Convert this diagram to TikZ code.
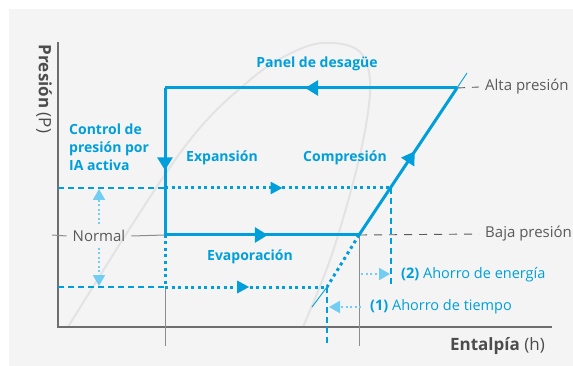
\documentclass[tikz,border=0pt]{standalone}
\usepackage{fontspec}
\setmainfont{Open Sans}
\usetikzlibrary{
  arrows.meta,
  positioning,
  decorations.markings
}
\definecolor{cycleblue}{HTML}{009FDB}
\definecolor{softblue}{HTML}{72CDF2}
\definecolor{labelgrey}{HTML}{5A5A5A}
\definecolor{axisgrey}{HTML}{6E6E6E}
\definecolor{tickgrey}{HTML}{8C8C8C}
\definecolor{domegrey}{HTML}{E3E3E3}
\definecolor{panelgrey}{HTML}{F4F4F4}

\begin{document}
\begin{tikzpicture}[x=1pt, y=-1pt,
  cycleline/.style={draw=cycleblue, line width=3pt},
  dotline/.style={draw=cycleblue, line width=3pt, dash pattern=on 3pt off 3.5pt},
  dashline/.style={draw=cycleblue, line width=1.6pt, dash pattern=on 6pt off 4pt},
  thinblue/.style={draw=cycleblue, line width=0.9pt},
  greydash/.style={draw=labelgrey, line width=0.9pt, dash pattern=on 8pt off 7pt},
  tick/.style={draw=tickgrey, line width=1pt},
  axis/.style={draw=axisgrey, line width=2pt},
  dome/.style={draw=domegrey, line width=2pt},
  softarrow/.style={draw=softblue, line width=2pt, dash pattern=on 2pt off 2.5pt,
    -{Triangle[length=11pt, width=12pt, fill=softblue]}},
  arrowat/.style={postaction=decorate, decoration={markings,
    mark=at position #1 with {\arrow{Triangle[length=13pt, width=15pt, fill=cycleblue]}}}},
  smallarrowat/.style={postaction=decorate, decoration={markings,
    mark=at position #1 with {\arrow{Triangle[length=12pt, width=12pt, fill=cycleblue]}}}},
  title/.style={font=\fontsize{14}{18}\selectfont\bfseries, text=cycleblue, align=left, inner sep=0pt},
  greylabel/.style={font=\fontsize{15}{18}\selectfont, text=labelgrey, inner sep=0pt},
  savelabel/.style={font=\fontsize{14.5}{18}\selectfont, text=cycleblue, anchor=west, inner sep=0pt},
  axislabel/.style={font=\fontsize{17}{20}\selectfont, text=labelgrey!85!black, inner sep=0pt}
]
% background panel
\useasboundingbox (0,0) rectangle (573,366);
\fill[white] (0,0) rectangle (573,366);
\fill[panelgrey] (9,9) rectangle (573,366);

% saturation dome
\draw[dome] plot[smooth, tension=0.6] coordinates {(68,327) (180,153) (250,80) (300,49) (333,43) (360,52) (370,80) (366,125) (353,183) (330,260) (303,327)};

% axes
\coordinate (origin) at (58,327);
\coordinate (ytop) at (58,42);
\coordinate (xend) at (552,327);
\draw[axis] (ytop) -- (origin) -- (xend);
\node[axislabel, rotate=-90] (ylab) at (44,89) {\textbf{Presión} (P)};
\node[axislabel, anchor=east] (xlab) at (545,346) {\textbf{Entalpía} (h)};

% cycle corners
\coordinate (hiL) at (165,88);
\coordinate (hiR) at (457,88);
\coordinate (loL) at (165,235);
\coordinate (loR) at (359,235);
\coordinate (hiTip) at (467,73);
% AI control levels
\coordinate (aiLeft) at (58,188);
\coordinate (aiL) at (165,188);
\coordinate (aiR) at (391,188);
\coordinate (aiBot) at (391,287);
\coordinate (lowLeft) at (58,287);
\coordinate (lowL) at (165,287);
\coordinate (lowR) at (327,287);
\coordinate (lowTip) at (312,307);
\coordinate (lowBot) at (327,346);
\coordinate (tickL) at (165,346);
\coordinate (tickR) at (359,346);

% pressure labels
\node[greylabel, anchor=west] (alta) at (485,87) {Alta presión};
\node[greylabel, anchor=west] (baja) at (485,234) {Baja presión};
\node[greylabel, inner sep=6pt] (normal) at (99,236) {Normal};
\draw[greydash] (hiR) -- ([xshift=-6pt]alta.west);
\draw[greydash] (loR) -- ([xshift=-6pt]baja.west);
\draw[tick] (52,235) -- (normal.west);
\draw[tick] (normal.east) -- (loL);
\draw[tick] (lowL) -- (tickL);
\draw[tick] (loR) -- (tickR);

% dashed guides
\draw[dashline] (aiLeft) -- (aiL);
\draw[dashline] (lowLeft) -- (lowL);
\draw[dashline] (aiR) -- (aiBot);
\draw[dashline] (lowR) -- (lowBot);

% dotted shifted cycles
\draw[dotline, smallarrowat=0.52] (aiL) -- (aiR);
\draw[dotline, smallarrowat=0.52] (lowL) -- (lowR);
\draw[dotline] (loL) -- (lowL);
\draw[dotline] (loR) -- (lowR);
\draw[thinblue] (lowR) -- (lowTip);

% main cycle
\draw[cycleline, arrowat=0.52] (hiR) -- (hiL);
\draw[cycleline, arrowat=0.56] (hiL) -- (loL);
\draw[cycleline, arrowat=0.53] (loL) -- (loR);
\draw[cycleline, arrowat=0.57] (loR) -- (hiR);
\draw[thinblue] (hiR) -- (hiTip);

% control range arrows
\coordinate (ctlTop) at (99,189);
\coordinate (ctlBot) at (99,286);
\draw[softarrow] (normal.north) -- (ctlTop);
\draw[softarrow] (normal.south) -- (ctlBot);

% savings
\coordinate (sav2a) at (361,274);
\coordinate (sav2b) at (390,274);
\coordinate (sav1a) at (361,307);
\coordinate (sav1b) at (329,307);
\draw[softarrow] (sav2a) -- (sav2b);
\draw[softarrow] (sav1a) -- (sav1b);
\node[savelabel] (save2) at (401,275) {\textbf{(2)} Ahorro de energía};
\node[savelabel] (save1) at (370,307) {\textbf{(1)} Ahorro de tiempo};

% stage labels
\node[title] (panel) at (317,64) {Panel de desagüe};
\node[title] (expansion) at (222,158) {Expansión};
\node[title] (compresion) at (345,158) {Compresión};
\node[title] (evapora) at (250,257) {Evaporación};
\node[title, anchor=west] (control) at (69,147) {Control de\\presión por\\IA activa};
\end{tikzpicture}
\end{document}
